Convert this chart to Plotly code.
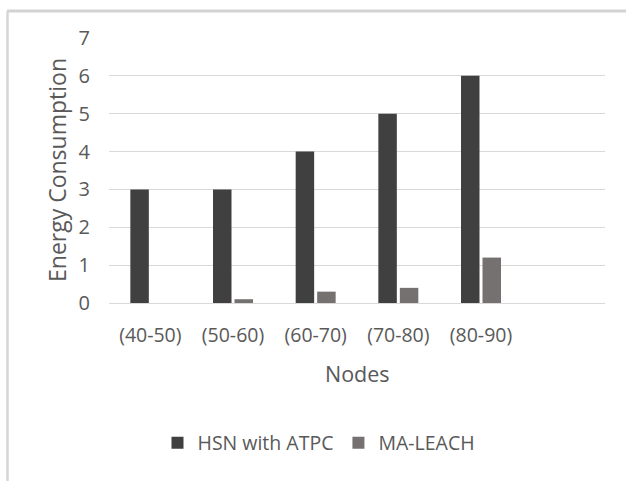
import plotly.graph_objects as go

categories = ["(40-50)", "(50-60)", "(60-70)", "(70-80)", "(80-90)"]
hsn_atpc = [3, 3, 4, 5, 6]
ma_leach = [0, 0.1, 0.3, 0.4, 1.2]
y_ticks = [0, 1, 2, 3, 4, 5, 6, 7]

W, H = 626, 481
L, R, T, B = 109, 21, 38, 178
pw, ph = W - L - R, H - T - B

def px(x):
    return (x - L) / pw

def py(y):
    return (H - B - y) / ph

FONT = "Open Sans"
TXT = "#595959"

fig = go.Figure()
fig.add_trace(go.Bar(name="HSN with ATPC", x=categories, y=hsn_atpc,
                     marker=dict(color="#404040", line=dict(width=0))))
fig.add_trace(go.Bar(name="MA-LEACH", x=categories, y=ma_leach,
                     marker=dict(color="#767171", line=dict(width=0))))

fig.update_layout(
    width=W, height=H,
    margin=dict(l=L, r=R, t=T, b=B, autoexpand=False),
    paper_bgcolor="white", plot_bgcolor="white",
    barmode="group", bargap=0.48, bargroupgap=0.14,
    font=dict(family=FONT, color=TXT, size=19),
    showlegend=True,
    legend=dict(orientation="h", x=px(319), y=py(443), xanchor="center", yanchor="middle",
                font=dict(size=19.5, color=TXT), itemwidth=30, traceorder="normal",
                bgcolor="rgba(0,0,0,0)"),
    xaxis=dict(type="category", range=[-0.5, 5.5], showgrid=False, showline=False,
               zeroline=False, ticks="", tickfont=dict(size=19.5, color=TXT),
               ticklabelstandoff=18, fixedrange=True),
    yaxis=dict(range=[0, 7], tickvals=y_ticks, showgrid=True, gridcolor="#d9d9d9",
               gridwidth=1, zeroline=True, zerolinecolor="#d9d9d9", zerolinewidth=1,
               showline=False, ticks="", tickfont=dict(size=20, color=TXT),
               ticklabelstandoff=18, fixedrange=True),
    annotations=[
        dict(text="Nodes", x=px(357), y=py(373), xref="paper", yref="paper",
             showarrow=False, xanchor="center", yanchor="middle",
             font=dict(size=21.5, color=TXT, family=FONT)),
        dict(text="Energy Consumption", x=px(57), y=py(170), xref="paper", yref="paper",
             showarrow=False, xanchor="center", yanchor="middle", textangle=-90,
             font=dict(size=23, color=TXT, family=FONT)),
    ],
    shapes=[
        dict(type="line", xref="paper", yref="paper", layer="above",
             x0=px(7), x1=px(640), y0=py(11), y1=py(11),
             line=dict(color="#d3d3d3", width=3)),
        dict(type="line", xref="paper", yref="paper", layer="above",
             x0=px(7.5), x1=px(7.5), y0=py(11), y1=py(500),
             line=dict(color="#d6d6d6", width=2.5)),
    ],
)

fig.write_html("out.html", config={"displayModeBar": False},
               post_script="document.body.style.margin='0';document.body.style.padding='0';document.body.style.overflow='hidden';")
